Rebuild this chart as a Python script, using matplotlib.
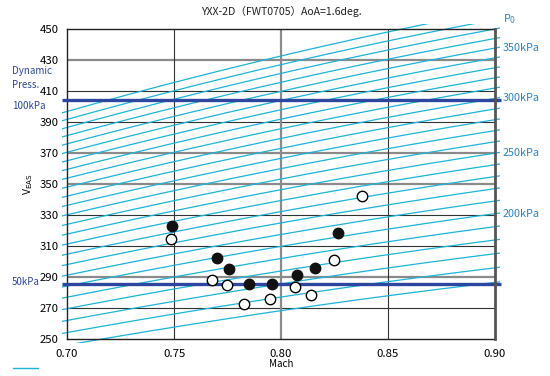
import numpy as np
import matplotlib
matplotlib.use("Agg")
import matplotlib.pyplot as plt
from matplotlib.lines import Line2D
from matplotlib.patches import Rectangle

plt.rcParams['font.family'] = ['Noto Sans CJK JP', 'DejaVu Sans']

# ---- data ----
filled_mach = [0.7489, 0.7701, 0.7758, 0.7849, 0.7959, 0.8076, 0.8157, 0.8266]
filled_veas = [323.1, 302.5, 295.2, 285.7, 285.7, 291.5, 295.6, 318.6]
open_mach = [0.7485, 0.7679, 0.7746, 0.7829, 0.7950, 0.8065, 0.8140, 0.8249, 0.8377]
open_veas = [314.7, 288.1, 285.1, 272.6, 275.6, 283.7, 278.2, 300.9, 342.5]

p0_lines_kpa = [150, 160, 170, 180, 190, 200, 210, 220, 230, 240, 250, 260,
                270, 280, 290, 300, 310, 320, 330, 340, 350, 360, 370, 380, 390]
p0_labels_kpa = [200, 250, 300, 350]
dyn_press_kpa = [50, 100]

x_ticks = [0.70, 0.75, 0.80, 0.85, 0.90]
y_ticks = [250, 270, 290, 310, 330, 350, 370, 390, 410, 430, 450]

RHO0 = 1.225
GAM = 1.4


def veas(mach, p0_kpa):
    m = np.asarray(mach, dtype=float)
    p = p0_kpa * 1000.0 / (1 + 0.2 * m ** 2) ** 3.5
    q = 0.5 * GAM * p * m ** 2
    return np.sqrt(2 * q / RHO0)


def veas_q(q_kpa):
    return np.sqrt(2 * q_kpa * 1000.0 / RHO0)


fig = plt.figure(figsize=(5.5, 3.76), dpi=100)
ax = fig.add_axes([67 / 550, 37 / 376, 428 / 550, 310 / 376])
ax.set_xlim(0.70, 0.90)
ax.set_ylim(250, 450)

cyan = '#1cb4d9'
navy = '#2d46a0'
lblue = '#2a84c6'

clip = Rectangle((0.6977, 247.4), 0.2046, 205.8, transform=ax.transData,
                 fill=False, visible=False)
ax.add_patch(clip)

m = np.linspace(0.6977, 0.9023, 200)
for p0 in p0_lines_kpa:
    ln, = ax.plot(m, veas(m, p0), color=cyan, lw=0.9, zorder=2, clip_on=True)
    ln.set_clip_path(clip)

# grid lines
grey_h = [290, 350, 370, 430]
dark_h = [270, 310, 330, 390, 410]
for v in grey_h:
    ax.axhline(v, color='#8a8a8a', lw=1.6, zorder=1)
for v in dark_h:
    ax.axhline(v, color='#333333', lw=0.8, zorder=1)
ax.axvline(0.80, color='#8a8a8a', lw=1.6, zorder=1)
for v in [0.75, 0.85]:
    ax.axvline(v, color='#333333', lw=0.8, zorder=1)

# dynamic pressure lines
for q in dyn_press_kpa:
    ax.plot([0.6975, 0.9028], [veas_q(q)] * 2, color=navy, lw=2.4,
            zorder=3, clip_on=False, solid_capstyle='butt')

ax.plot(open_mach, open_veas, 'o', ms=7.5, mfc='white', mec='black',
        mew=1.0, zorder=5, ls='none')
ax.plot(filled_mach, filled_veas, 'o', ms=7.5, mfc='#111111', mec='#111111',
        mew=1.0, zorder=6, ls='none')

for s in ['left', 'top', 'bottom']:
    ax.spines[s].set_color('#222222')
    ax.spines[s].set_linewidth(1.0)
ax.spines['right'].set_color('#555555')
ax.spines['right'].set_linewidth(2.0)
ax.spines['right'].set_zorder(4)

ax.set_xticks(x_ticks)
ax.set_xticklabels([f'{t:.2f}' for t in x_ticks], fontsize=8.2)
ax.set_yticks(y_ticks)
ax.set_yticklabels([str(t) for t in y_ticks], fontsize=8.2)
ax.tick_params(length=0, pad=6)
ax.tick_params(axis='x', pad=7)

ax.set_title('YXX-2D（FWT0705）AoA=1.6deg.', fontsize=7.6, pad=10, color='#222222')
ax.set_xlabel('Mach', fontsize=7, labelpad=0)
ax.set_ylabel(r'V$_{\mathrm{EAS}}$', fontsize=7.5, labelpad=3)

# right labels
for p0 in p0_labels_kpa:
    ax.text(0.9037, float(veas(0.9, p0)), f'{p0}kPa', color=lblue,
            fontsize=7.8, va='center', ha='left', clip_on=False)
ax.text(0.9037, 456.5, r'P$_0$', color=lblue, fontsize=7.8, va='center',
        ha='left', clip_on=False)

# left labels
fig.text(12 / 550, 1 - 71 / 376, 'Dynamic', color=navy, fontsize=7, va='center')
fig.text(12 / 550, 1 - 85 / 376, 'Press.', color=navy, fontsize=7, va='center')
fig.text(12 / 550, 1 - 106 / 376, '100kPa', color=navy, fontsize=7, va='center')
fig.text(12 / 550, 1 - 282 / 376, '50kPa', color=navy, fontsize=7, va='center')

fig.add_artist(Line2D([13 / 550, 38 / 550], [1 - 368 / 376] * 2, color=cyan,
                      lw=1.0, transform=fig.transFigure))

fig.savefig('out.png', dpi=100)
